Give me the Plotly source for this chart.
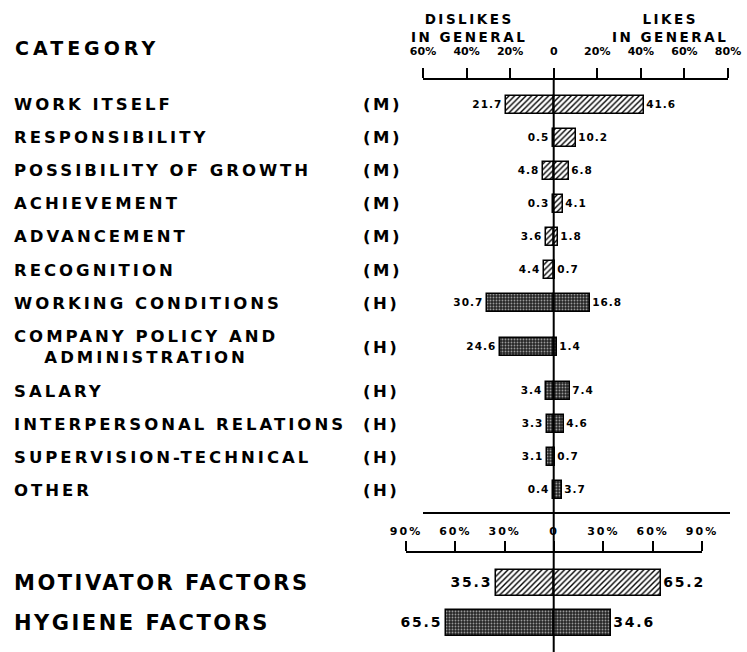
import plotly.graph_objects as go

# ---------------- data ----------------
categories = ["WORK ITSELF", "RESPONSIBILITY", "POSSIBILITY OF GROWTH", "ACHIEVEMENT",
              "ADVANCEMENT", "RECOGNITION", "WORKING CONDITIONS",
              "COMPANY POLICY AND<br>ADMINISTRATION", "SALARY",
              "INTERPERSONAL RELATIONS", "SUPERVISION-TECHNICAL", "OTHER"]
groups = ["M", "M", "M", "M", "M", "M", "H", "H", "H", "H", "H", "H"]
dislikes = [21.7, 0.5, 4.8, 0.3, 3.6, 4.4, 30.7, 24.6, 3.4, 3.3, 3.1, 0.4]
likes = [41.6, 10.2, 6.8, 4.1, 1.8, 0.7, 16.8, 1.4, 7.4, 4.6, 0.7, 3.7]

summary_labels = ["MOTIVATOR FACTORS", "HYGIENE FACTORS"]
summary_groups = ["M", "H"]
summary_dislikes = [35.3, 65.5]
summary_likes = [65.2, 34.6]

top_tickvals = [-60, -40, -20, 0, 20, 40, 60, 80]
top_ticktext = ["60%", "40%", "20%", "0", "20%", "40%", "60%", "80%"]
bottom_tickvals = [-90, -60, -30, 0, 30, 60, 90]
bottom_ticktext = ["90%", "60%", "30%", "0", "30%", "60%", "90%"]

# ---------------- layout helpers ----------------
W, H = 747, 652
FONT = "DejaVu Sans"


def px_x(p):
    return p / W


def px_y(p):
    return 1 - p / H


def sp(text, ls):
    return "<br>".join(f'<span style="letter-spacing:{ls}px">{t}</span>'
                       for t in text.split("<br>"))


def b(text):
    return "<br>".join(f"<b>{t}</b>" for t in text.split("<br>"))


STYLE = {
    "M": dict(bg="white", fg="black", shape="/", size=4, solidity=0.35),
    "H": dict(bg="#262626", fg="#9a9a9a", shape=".", size=3, solidity=0.3),
}

# row positions (extra room around the two-line label)
rows = []
pos = 0.0
for c in categories:
    extra = 1 / 3 if "<br>" in c else 0
    pos += extra
    rows.append(pos)
    pos += 1 + extra

fig = go.Figure()


def add_bars(yvals, grp, dis, lik, xa, ya, width, fsize, ls):
    for g in ("M", "H"):
        idx = [i for i, gg in enumerate(grp) if gg == g]
        if not idx:
            continue
        st = STYLE[g]
        marker = dict(
            color=st["bg"],
            line=dict(color="black", width=1.5),
            pattern=dict(shape=st["shape"], fgcolor=st["fg"], bgcolor=st["bg"],
                         size=st["size"], solidity=st["solidity"], fillmode="replace"),
        )
        for vals, sign in ((dis, -1), (lik, 1)):
            fig.add_trace(go.Bar(
                x=[sign * vals[i] for i in idx], y=[yvals[i] for i in idx],
                orientation="h", width=width, marker=marker,
                text=[b(sp(f"{vals[i]:.1f}", ls)) for i in idx],
                textposition="outside", constraintext="none", cliponaxis=False,
                textfont=dict(family=FONT, size=fsize, color="black"),
                xaxis=xa, yaxis=ya, showlegend=False, hoverinfo="skip",
            ))


add_bars(rows, groups, dislikes, likes, "x", "y", 0.55, 10.5, 1)
add_bars([0, 1], summary_groups, summary_dislikes, summary_likes, "x2", "y2",
         0.65, 14, 1.8)

# axis geometry (pixels)
top_axis_y, top_bottom = 80, 513
row0_px, row_step = 105, 33
bot_axis_y = 553
brow0_px, brow_step = 583, 40

axis_common = dict(showgrid=False, zeroline=False, showline=True, linecolor="black",
                   linewidth=2, ticks="outside", ticklen=10, tickwidth=2,
                   tickcolor="black", side="top", fixedrange=True, automargin=False)

fig.update_layout(
    width=W, height=H, margin=dict(l=0, r=0, t=0, b=0, pad=0), autosize=False,
    paper_bgcolor="white", plot_bgcolor="rgba(0,0,0,0)",
    barmode="overlay", bargap=0, showlegend=False,
    font=dict(family=FONT, color="black"),
    xaxis=dict(domain=[px_x(423), px_x(728)], range=[-60, 80], anchor="y",
               tickvals=top_tickvals, ticktext=[b(t) for t in top_ticktext],
               tickfont=dict(size=11, family=FONT), ticklabelstandoff=9,
               **axis_common),
    yaxis=dict(domain=[px_y(top_bottom), px_y(top_axis_y)],
               range=[(top_bottom - row0_px) / row_step, (top_axis_y - row0_px) / row_step],
               visible=False, fixedrange=True, automargin=False),
    xaxis2=dict(domain=[px_x(406), px_x(702)], range=[-90, 90], anchor="y2",
                tickvals=bottom_tickvals,
                ticktext=[b(sp(t, 2)) for t in bottom_ticktext],
                tickfont=dict(size=11, family=FONT), ticklabelstandoff=2,
                **axis_common),
    yaxis2=dict(domain=[0, px_y(bot_axis_y)],
                range=[(H - brow0_px) / brow_step, (bot_axis_y - brow0_px) / brow_step],
                visible=False, fixedrange=True, automargin=False),
)

# zero line through both panels and separator line
fig.add_shape(type="line", xref="x", yref="paper", x0=0, x1=0, y0=0, y1=px_y(top_axis_y),
              line=dict(color="black", width=2), layer="above")
fig.add_shape(type="line", xref="paper", yref="paper", x0=px_x(423), x1=px_x(730),
              y0=px_y(513), y1=px_y(513), line=dict(color="black", width=2))

ann = []
ann.append(dict(text=b(sp("CATEGORY", 4)), x=px_x(13), y=px_y(48), xref="paper",
                yref="paper", xanchor="left", yanchor="middle", showarrow=False,
                font=dict(size=19, family=FONT)))
ann.append(dict(text=b(sp("DISLIKES<br>IN GENERAL", 2.5)), x=px_x(469), y=px_y(28),
                xref="paper", yref="paper", xanchor="center", yanchor="middle",
                align="center", showarrow=False, font=dict(size=13.5, family=FONT)))
ann.append(dict(text=b(sp("LIKES<br>IN GENERAL", 2.5)), x=px_x(670), y=px_y(28),
                xref="paper", yref="paper", xanchor="center", yanchor="middle",
                align="center", showarrow=False, font=dict(size=13.5, family=FONT)))
for c, g, r in zip(categories, groups, rows):
    ann.append(dict(text=b(sp(c, 3.0)), x=px_x(12), y=r, xref="paper", yref="y",
                    xanchor="left", yanchor="middle", align="center", showarrow=False,
                    font=dict(size=16.5, family=FONT)))
    ann.append(dict(text=b(sp(f"({g})", 2.5)), x=px_x(361), y=r, xref="paper", yref="y",
                    xanchor="left", yanchor="middle", showarrow=False,
                    font=dict(size=16.5, family=FONT)))
for i, lab in enumerate(summary_labels):
    ann.append(dict(text=b(sp(lab, 2.5)), x=px_x(12), y=i, xref="paper", yref="y2",
                    xanchor="left", yanchor="middle", showarrow=False,
                    font=dict(size=21, family=FONT)))
fig.update_layout(annotations=ann)

fig.write_html("out.html",
               config={"displayModeBar": False, "responsive": False},
               post_script="document.body.style.margin='0';")
